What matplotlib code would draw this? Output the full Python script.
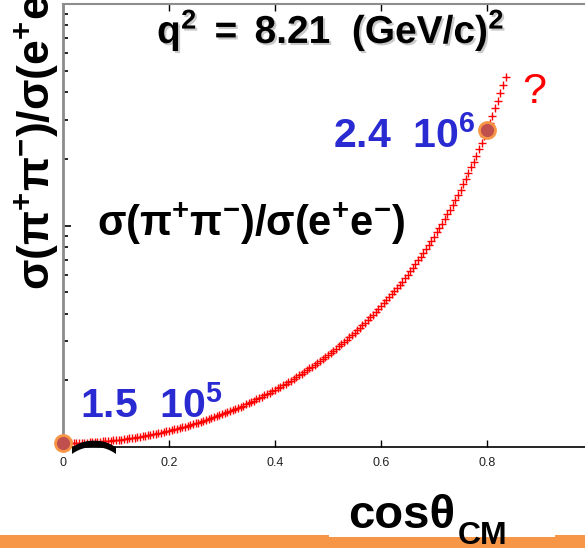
import matplotlib
matplotlib.use("Agg")
import numpy as np
import matplotlib.pyplot as plt
import matplotlib.patheffects as pe
from matplotlib.patches import Rectangle
from matplotlib.ticker import LogLocator, NullFormatter

plt.rcParams["font.family"] = ["Liberation Sans", "DejaVu Sans"]
plt.rcParams["mathtext.fontset"] = "custom"
plt.rcParams["mathtext.rm"] = "Liberation Sans"
plt.rcParams["mathtext.bf"] = "Liberation Sans:bold"
plt.rcParams["mathtext.it"] = "Liberation Sans:italic"

# cross-section ratio vs cos(theta_CM), sampled every 0.005 from 0
ratio = [
    0.1040, 0.1040, 0.1040, 0.1041, 0.1041, 0.1042, 0.1043, 0.1044, 0.1045, 0.1047,
    0.1048, 0.1050, 0.1052, 0.1054, 0.1056, 0.1059, 0.1062, 0.1064, 0.1067, 0.1071,
    0.1074, 0.1077, 0.1081, 0.1085, 0.1089, 0.1094, 0.1098, 0.1103, 0.1108, 0.1113,
    0.1118, 0.1124, 0.1130, 0.1136, 0.1142, 0.1148, 0.1155, 0.1162, 0.1169, 0.1177,
    0.1185, 0.1193, 0.1201, 0.1209, 0.1218, 0.1227, 0.1237, 0.1247, 0.1257, 0.1267,
    0.1278, 0.1289, 0.1300, 0.1312, 0.1324, 0.1337, 0.1350, 0.1363, 0.1376, 0.1390,
    0.1405, 0.1420, 0.1436, 0.1452, 0.1468, 0.1485, 0.1502, 0.1520, 0.1539, 0.1558,
    0.1578, 0.1598, 0.1619, 0.1641, 0.1663, 0.1686, 0.1710, 0.1735, 0.1760, 0.1787,
    0.1814, 0.1842, 0.1871, 0.1900, 0.1931, 0.1963, 0.1996, 0.2030, 0.2066, 0.2103,
    0.2140, 0.2180, 0.2220, 0.2262, 0.2306, 0.2351, 0.2398, 0.2447, 0.2497, 0.2550,
    0.2604, 0.2660, 0.2719, 0.2780, 0.2843, 0.2909, 0.2978, 0.3049, 0.3124, 0.3201,
    0.3282, 0.3367, 0.3455, 0.3547, 0.3644, 0.3745, 0.3850, 0.3960, 0.4075, 0.4196,
    0.4318, 0.4451, 0.4589, 0.4735, 0.4889, 0.5050, 0.5219, 0.5397, 0.5586, 0.5784,
    0.5994, 0.6215, 0.6449, 0.6697, 0.6958, 0.7236, 0.7531, 0.7845, 0.8178, 0.8532,
    0.8910, 0.9313, 0.9744, 1.0204, 1.0697, 1.1226, 1.1793, 1.2403, 1.3058, 1.3766,
    1.4532, 1.5359, 1.6255, 1.7228, 1.8285, 1.9438, 2.0693, 2.2067, 2.3578, 2.5236,
    2.7068, 2.9086, 3.1320, 3.3803, 3.6567, 3.9656, 4.3124, 4.7020,
]
cos_theta = np.round(np.arange(len(ratio)) * 0.005, 3)

# highlighted points and their event counts
marked_cos = [0.0, 0.8]
count_mantissa = ["1.5", "2.4"]
count_exponent = [5, 6]

xticks = [0, 0.2, 0.4, 0.6, 0.8]
xtick_labels = ["0", "0.2", "0.4", "0.6", "0.8"]

W, H = 585, 548
fig = plt.figure(figsize=(W / 100, H / 100), dpi=100)
ax = fig.add_axes([63 / W, 1 - 447 / H, 530 / W, 443 / H])

ax.plot(cos_theta, ratio, "+", color="red", ms=5.5, mew=1.0, clip_on=False)
marked_ratio = [ratio[int(round(c / 0.005))] for c in marked_cos]
ax.plot(marked_cos, marked_ratio, "o", ms=11.5, mfc="#c0504d", mec="#f79646",
        mew=2, clip_on=False, zorder=5)

ax.set_xlim(0, 1.0)
ax.set_yscale("log")
ax.set_ylim(0.1, 10)
ax.set_xticks(xticks)
ax.set_xticklabels(xtick_labels)
ax.yaxis.set_major_locator(LogLocator(base=10))
ax.yaxis.set_minor_locator(LogLocator(base=10, subs=np.arange(2, 10)))
ax.yaxis.set_major_formatter(NullFormatter())
ax.yaxis.set_minor_formatter(NullFormatter())

ax.tick_params(axis="x", direction="in", top=True, length=5, width=1,
               labelsize=9, pad=7, labelcolor="#222222")
ax.tick_params(axis="y", which="major", direction="in", length=6, width=1.2)
ax.tick_params(axis="y", which="minor", direction="in", length=3.5, width=1.2)

ax.spines["right"].set_visible(False)
ax.spines["left"].set_color("#8c8c8c")
ax.spines["left"].set_linewidth(2)
ax.spines["top"].set_color("#8c8c8c")
ax.spines["top"].set_linewidth(1.5)
ax.spines["bottom"].set_color("black")
ax.spines["bottom"].set_linewidth(1.2)

# orange footer bar with a white box behind the axis title
fig.add_artist(Rectangle((0, 0), 1, 13 / H, transform=fig.transFigure,
                         facecolor="#f79646", edgecolor="none"))
fig.add_artist(Rectangle((329 / W, 11.5 / H), 226 / W, 40 / H,
                         transform=fig.transFigure, facecolor="white",
                         edgecolor="none"))

shadow = [pe.withSimplePatchShadow(offset=(1.5, -1.5), shadow_rgbFace="0.4",
                                   alpha=0.35)]
fig.text(157 / W, 1 - 43 / H, r"$\mathbf{q^{2}\ =\ 8.21\ \ (GeV/c)^{2}}$",
         fontsize=28, va="baseline", ha="left", path_effects=shadow)

label = r"$\mathbf{\sigma(\pi^{+}\pi^{-})/\sigma(e^{+}e^{-})}$"
fig.text(97 / W, 1 - 236 / H, label, fontsize=30, va="baseline", ha="left")
fig.text(37 / W, 1 - 290 / H, label, fontsize=32, rotation=90,
         ha="center", va="bottom")

blue = "#2a2ad2"
label_pos = [(80, 418), (333, 148)]
for (px, py), m, e in zip(label_pos, count_mantissa, count_exponent):
    fig.text(px / W, 1 - py / H, r"$\mathbf{%s\ \ 10^{%d}}$" % (m, e),
             fontsize=29.5, color=blue, va="baseline", ha="left")

fig.text(522 / W, 1 - 103 / H, "?", fontsize=31, color="red", va="baseline")
fig.text(95 / W, 1 - 445 / H, ")", fontsize=34, fontweight="bold",
         rotation=90, ha="center", va="center")

fig.text(348 / W, 1 - 528 / H, "cosθ", fontsize=34, fontweight="bold",
         va="baseline", ha="left")
fig.text(458 / W, 1 - 544 / H, "CM", fontsize=23, fontweight="bold",
         va="baseline", ha="left")

fig.savefig("out.png", dpi=100)
